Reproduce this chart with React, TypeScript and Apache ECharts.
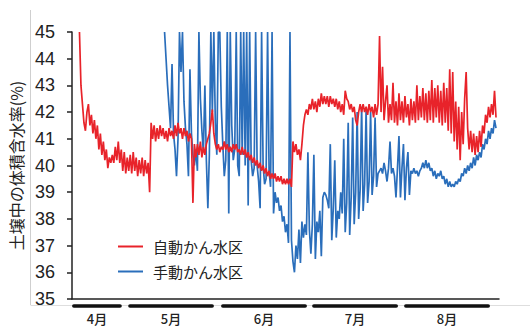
import React, { useEffect, useRef } from "react";
import * as echarts from "echarts";

// x unit: day number counted from 1 April (1 May = 31, 1 June = 62, 1 July = 92, 1 Aug = 123)
const seriesNames = ["自動かん水区", "手動かん水区"];
const monthLabels = ["4月", "5月", "6月", "7月", "8月"];
const monthStart = [13.6, 32.4, 63.5, 94.0, 124.8];
const monthEnd = [29.1, 59.95, 91.1, 121.6, 152.4];
const monthBarLevel = 34.74;

const redStart = 15.5;
const blueStart = 44;
const step = 0.5;

// 自動かん水区 (red), every half day from day 15.5
const redValues = [
  45.0, 43.0, 42.3, 41.6, 41.3, 42.0, 42.3, 41.5, 41.9, 41.2,
  41.7, 41.0, 41.5, 40.6, 41.2, 40.4, 40.9, 40.2, 40.6, 39.9,
  40.3, 40.1, 40.4, 40.1, 40.7, 40.2, 40.9, 40.1, 40.6, 39.8,
  40.5, 39.7, 40.3, 39.8, 40.4, 39.7, 40.5, 39.8, 40.3, 39.6,
  40.2, 39.7, 40.3, 39.6, 40.2, 39.7, 40.1, 39.0, 41.6, 41.0,
  41.5, 40.9, 41.4, 41.0, 41.5, 41.1, 41.4, 41.0, 41.3, 40.9,
  41.4, 41.1, 41.3, 41.0, 41.5, 41.1, 41.6, 41.2, 41.4, 41.0,
  41.4, 41.1, 41.3, 40.9, 41.2, 41.0, 38.6, 40.8, 40.3, 40.8,
  40.4, 40.9, 40.3, 40.7, 40.4, 40.8, 41.0, 41.2, 41.6, 42.1,
  41.2, 40.8, 40.6, 40.8, 40.5, 40.7, 40.6, 40.9, 40.6, 40.8,
  40.5, 40.7, 40.5, 40.8, 40.6, 40.8, 40.5, 40.6, 40.4, 40.7,
  40.4, 40.6, 40.3, 40.5, 40.2, 40.4, 40.1, 40.3, 40.0, 40.2,
  39.9, 40.1, 39.8, 40.0, 39.7, 39.9, 39.6, 39.8, 39.5, 39.7,
  39.5, 39.7, 39.4, 39.6, 39.4, 39.6, 39.3, 39.5, 39.3, 39.5,
  39.3, 39.5, 39.2, 40.9, 40.5, 40.8, 40.4, 40.6, 40.2, 40.8,
  41.5, 41.9, 42.1, 41.9, 42.3, 42.1, 42.5, 42.1, 42.4, 42.0,
  42.5, 42.2, 42.7, 42.3, 42.6, 42.3, 42.6, 42.2, 42.6, 42.3,
  42.5, 42.2, 42.5, 42.1, 42.4, 42.0, 42.3, 41.9, 42.8, 42.5,
  42.4, 42.1, 42.3, 42.0, 42.2, 41.7, 41.5, 42.0, 42.3, 42.0,
  42.3, 42.0, 42.2, 41.9, 42.3, 42.0, 42.2, 41.8, 42.3, 41.9,
  42.3, 44.85, 42.0, 43.7, 41.7, 42.4, 43.0, 41.6, 42.3, 41.7,
  43.1, 41.6, 42.4, 41.5, 42.7, 41.7, 42.4, 41.6, 42.6, 41.8,
  42.3, 41.5, 42.5, 41.7, 42.4, 41.6, 43.0, 41.7, 42.6, 41.8,
  42.9, 41.7, 42.7, 41.6, 42.8, 41.7, 43.2, 41.6, 42.9, 41.8,
  43.0, 41.6, 42.8, 41.5, 43.1, 41.6, 42.9, 41.3, 43.6, 41.2,
  43.5, 40.9, 42.4, 40.6, 42.2, 40.2, 42.0, 40.8, 42.5, 43.5,
  41.4, 40.6, 41.3, 40.5, 41.2, 40.4, 41.1, 40.5, 41.3, 40.7,
  41.5, 41.2, 41.9, 41.6, 42.2, 41.8, 42.3, 41.9, 42.8, 41.8,
];

// 手動かん水区 (blue), every half day from day 44
const blueValues = [
  45.0, 44.0, 43.0, 42.2, 41.4, 43.8, 41.2, 40.6, 39.6, 41.0,
  45.0, 43.5, 45.0, 42.4, 41.4, 40.8, 39.6, 43.6, 41.2, 40.4,
  40.0, 40.6, 39.8, 45.0, 42.5, 41.3, 40.5, 43.0, 40.2, 38.4,
  40.4, 45.0, 42.0, 45.0, 41.6, 40.4, 45.0, 45.0, 42.2, 40.8,
  39.6, 40.2, 45.0, 38.2, 45.0, 41.5, 40.2, 40.6, 45.0, 40.0,
  39.6, 45.0, 40.4, 45.0, 40.0, 45.0, 38.5, 45.0, 40.2, 39.6,
  39.9, 45.0, 40.0, 39.4, 38.4, 45.0, 40.0, 39.3, 39.5, 45.0,
  39.8, 39.2, 45.0, 38.2, 39.0, 38.6, 38.8, 38.3, 38.5, 37.9,
  38.1, 37.5, 37.8, 37.1, 45.0, 37.2, 36.4, 36.0, 37.0, 36.5,
  37.6, 36.35, 37.9, 37.3, 37.8, 37.4, 40.5, 37.6, 36.7, 37.8,
  40.4, 36.5, 37.9, 37.5, 38.3, 36.6, 38.8, 39.0, 38.9, 38.7,
  38.4, 40.8, 37.2, 38.4, 40.2, 37.3, 38.3, 38.0, 39.0, 38.2,
  41.0, 37.5, 38.6, 41.6, 37.4, 38.8, 41.8, 37.8, 39.0, 42.0,
  38.0, 39.1, 42.2, 38.3, 39.3, 42.1, 38.6, 39.4, 42.0, 38.9,
  39.6, 41.8, 39.2, 39.7, 39.8, 39.9, 39.7, 40.1, 39.8, 39.4,
  39.9, 40.9, 39.7, 39.9, 39.6, 38.8, 39.9, 41.1, 38.8, 39.9,
  40.8, 38.7, 39.9, 40.5, 38.9, 39.8, 39.7, 39.9, 39.7, 39.8,
  39.6, 39.8, 39.9, 40.1, 39.9, 40.2, 39.9, 40.1, 39.8, 39.9,
  39.6, 39.8, 39.5, 39.7, 39.6, 39.8, 39.5, 39.6, 39.3, 39.5,
  39.2, 39.4, 39.2, 39.3, 39.2, 39.4, 39.3, 39.5, 39.4, 39.7,
  39.6, 39.9, 39.7, 40.0, 39.8, 40.1, 39.9, 40.3, 40.0, 40.4,
  40.2, 40.5, 40.3, 40.8, 40.6, 41.0, 40.8, 41.3, 41.0, 41.4,
  41.2, 41.7, 41.4,
];

const RED = "#e8232a";
const BLUE = "#2a6ebb";

export default function App() {
  const ref = useRef<HTMLDivElement>(null);

  useEffect(() => {
    if (!ref.current) return;
    const chart = echarts.init(ref.current, null, { renderer: "svg" });

    const redData = redValues.map((v, i) => [redStart + i * step, v]);
    const blueData = blueValues.map((v, i) => [blueStart + i * step, v]);
    const monthCenters = monthStart.map((s, i) => (s + monthEnd[i]) / 2);

    const monthSeries = monthStart.map((s, i) => ({
      type: "line",
      name: "month" + i,
      data: [
        [s, monthBarLevel],
        [monthEnd[i], monthBarLevel],
      ],
      symbol: "none",
      clip: false,
      silent: true,
      z: 1,
      lineStyle: { color: "#111", width: 3.5, cap: "round" },
    }));

    chart.setOption({
      animation: false,
      backgroundColor: "#ffffff",
      grid: { left: 72, right: 31, top: 32, bottom: 29 },
      legend: {
        data: seriesNames,
        orient: "vertical",
        left: 118,
        top: 239,
        padding: 0,
        itemWidth: 25,
        itemHeight: 2,
        itemGap: 10,
        icon: "rect",
        textStyle: {
          fontSize: 15,
          color: "#222",
          fontFamily: "Noto Sans CJK JP",
          padding: [0, 0, 0, 5],
        },
      },
      xAxis: {
        type: "value",
        min: 13,
        max: 156,
        axisLine: { show: true, onZero: false, lineStyle: { color: "#222", width: 1.5 } },
        axisTick: { show: false },
        splitLine: { show: false },
        axisLabel: {
          customValues: monthCenters,
          formatter: (v: number) => {
            let best = 0;
            monthCenters.forEach((c, i) => {
              if (Math.abs(c - v) < Math.abs(monthCenters[best] - v)) best = i;
            });
            return monthLabels[best];
          },
          margin: 12,
          fontSize: 13,
          lineHeight: 14,
          fontWeight: 500,
          color: "#222",
          fontFamily: "Noto Sans CJK JP",
        },
      },
      yAxis: {
        type: "value",
        min: 35,
        max: 45,
        interval: 1,
        name: "土壌中の体積含水率(%)",
        nameLocation: "middle",
        nameRotate: 90,
        nameGap: 43,
        nameTextStyle: { fontSize: 16, color: "#222", fontFamily: "Noto Sans CJK JP" },
        axisLine: { show: true, lineStyle: { color: "#222", width: 1.5 } },
        axisTick: { show: true, length: 5, lineStyle: { color: "#222", width: 1.5 } },
        axisLabel: { fontSize: 18, color: "#222", margin: 17, fontFamily: "Liberation Sans" },
        splitLine: { show: false },
      },
      graphic: [
        { type: "line", shape: { x1: 30.5, y1: 10, x2: 30.5, y2: 305 }, style: { stroke: "#cfcfcf", lineWidth: 1 }, z: 0 },
        { type: "line", shape: { x1: 30.5, y1: 305.5, x2: 530, y2: 305.5 }, style: { stroke: "#dedede", lineWidth: 1 }, z: 0 },
      ],
      series: [
        {
          type: "line",
          name: seriesNames[1],
          data: blueData,
          symbol: "none",
          color: BLUE,
          lineStyle: { color: BLUE, width: 1.7 },
          z: 2,
        },
        {
          type: "line",
          name: seriesNames[0],
          data: redData,
          symbol: "none",
          color: RED,
          lineStyle: { color: RED, width: 1.7 },
          z: 3,
        },
        ...monthSeries,
      ],
    });

    return () => chart.dispose();
  }, []);

  return (
    <div
      ref={ref}
      style={{ position: "fixed", left: 0, top: 0, width: 530, height: 328, background: "#fff" }}
    />
  );
}
